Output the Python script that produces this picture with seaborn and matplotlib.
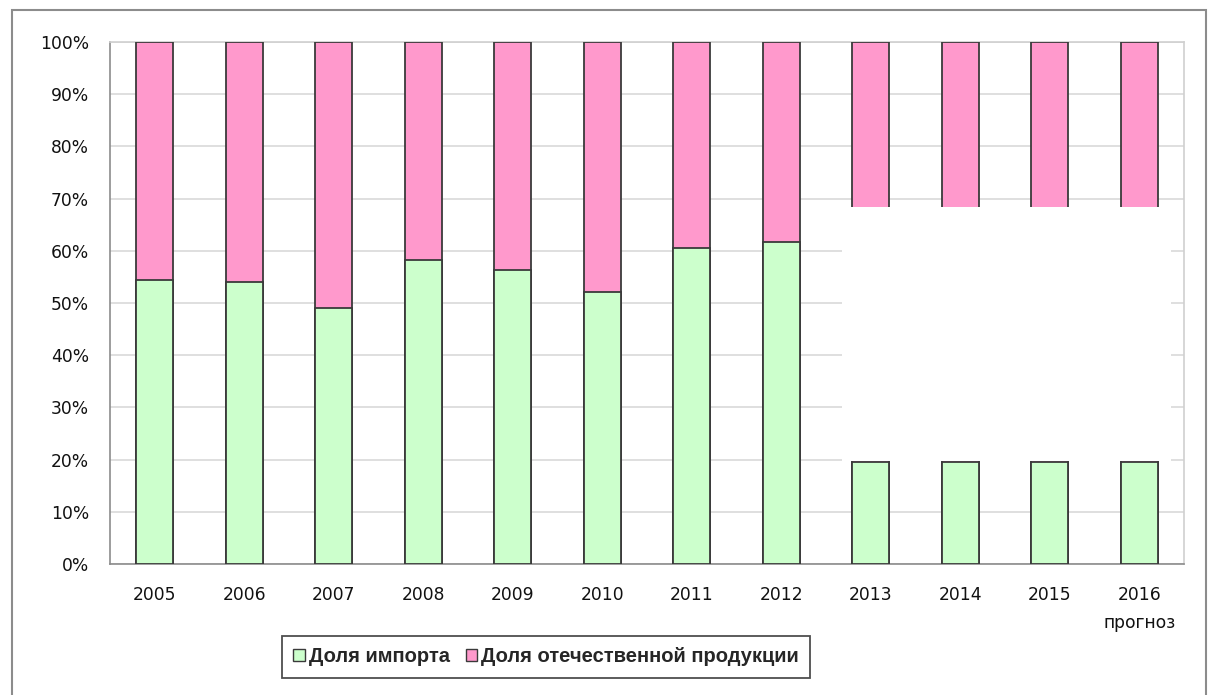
import numpy as np
import pandas as pd
import matplotlib
matplotlib.use("Agg")
import matplotlib.pyplot as plt
from matplotlib.patches import Patch, Rectangle
import seaborn as sns

years = ["2005", "2006", "2007", "2008", "2009", "2010", "2011", "2012",
         "2013", "2014", "2015", "2016\nпрогноз"]
import_share = [54.4, 54.0, 49.0, 58.2, 56.3, 52.1, 60.5, 61.7, 19.6, 19.6, 19.6, 19.6]
domestic_share = [45.6, 46.0, 51.0, 41.8, 43.7, 47.9, 39.5, 38.3, 31.4, 31.4, 31.4, 31.4]
series_names = ["Доля импорта", "Доля отечественной продукции"]
y_ticks = [0, 10, 20, 30, 40, 50, 60, 70, 80, 90, 100]

green = "#CCFFCC"
pink = "#FF99CC"
edge = "#3a3a3a"

sns.set_style("white")
plt.rcParams['font.family'] = ['DejaVu Sans']

df = pd.DataFrame({"year": years, "imp": import_share, "dom": domestic_share})
df["top"] = 100.0
df["gap_bottom"] = df["imp"]
df["gap_top"] = 100.0 - df["dom"]

fig = plt.figure(figsize=(12.08, 6.95), dpi=100)
ax = fig.add_axes([110 / 1208, 0.1885, (1184 - 110) / 1208, 0.7511])

sns.barplot(data=df, x="year", y="top", color=pink, width=0.41,
            edgecolor=edge, linewidth=1.3, saturation=1, ax=ax, zorder=3)
sns.barplot(data=df, x="year", y="imp", color=green, width=0.41,
            edgecolor=edge, linewidth=1.3, saturation=1, ax=ax, zorder=4)

# blank area for forecast years (between import and domestic parts)
fc = df[df["gap_top"] - df["gap_bottom"] > 0.5]
if len(fc):
    i0 = fc.index.min()
    i1 = fc.index.max()
    yb = fc["gap_bottom"].max() + 0.15
    yt = fc["gap_top"].min() - 0.15
    ax.add_patch(Rectangle((i0 - 0.32, yb), (i1 + 0.35) - (i0 - 0.32), yt - yb,
                           facecolor="white", edgecolor="none", zorder=5))

ax.set_ylim(0, 100)
ax.set_xlim(-0.5, len(years) - 0.5)
ax.set_yticks(y_ticks)
ax.set_yticklabels([f"{v}%" for v in y_ticks])
ax.set_xlabel("")
ax.set_ylabel("")
ax.yaxis.grid(True, color="#d9d9d9", linewidth=1.2, zorder=0)
ax.set_axisbelow(True)

ax.set_xticks(np.arange(-0.5, len(years), 1.0), minor=True)
ax.tick_params(axis="x", which="major", length=0, pad=16, labelsize=12.3, colors="#000000")
ax.tick_params(axis="x", which="minor", length=6, width=1.2, color="#8c8c8c", direction="out")
ax.tick_params(axis="y", which="major", length=7, width=1.2, color="#8c8c8c",
               direction="out", pad=8, labelsize=12.3)
for lab in ax.get_xticklabels():
    lab.set_linespacing(1.68)
    lab.set_color("#111111")
for lab in ax.get_yticklabels():
    lab.set_color("#111111")

for s in ["left", "bottom"]:
    ax.spines[s].set_color("#8c8c8c")
    ax.spines[s].set_linewidth(1.2)
for s in ["top", "right"]:
    ax.spines[s].set_color("#d0d0d0")
    ax.spines[s].set_linewidth(1.2)
    ax.spines[s].set_visible(True)

handles = [Patch(facecolor=green, edgecolor=edge, linewidth=1.0),
           Patch(facecolor=pink, edgecolor=edge, linewidth=1.0)]
leg = fig.legend(handles, series_names, loc="center", bbox_to_anchor=(546 / 1208, 1 - 657 / 695),
                 ncol=2, frameon=True, fancybox=False, handlelength=0.55, handleheight=0.55,
                 handletextpad=0.2, columnspacing=0.8, borderpad=0.55,
                 prop={"family": ["Liberation Sans Narrow", "Liberation Sans", "DejaVu Sans"],
                       "weight": "bold", "size": 14.5})
leg.get_frame().set_edgecolor("#222222")
leg.get_frame().set_linewidth(1.3)

# outer chart border
fig.add_artist(Rectangle((12 / 1208, -0.05), (1206 - 12) / 1208, 1.05 - 10 / 695,
                         transform=fig.transFigure, facecolor="none",
                         edgecolor="#8c8c8c", linewidth=1.5))

fig.savefig("out.png", dpi=100)
